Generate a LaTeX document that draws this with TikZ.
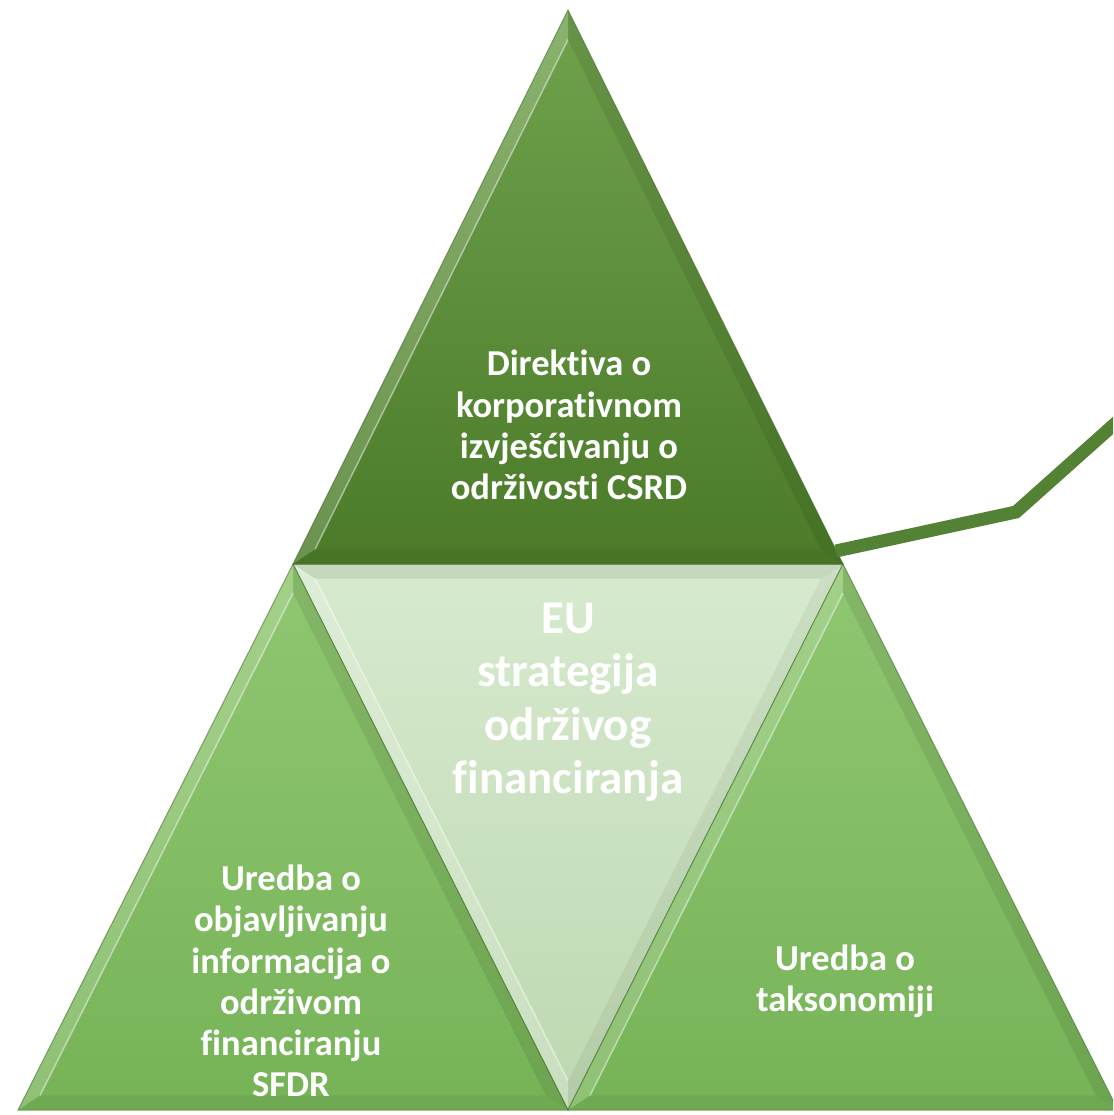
\documentclass[tikz,border=0pt]{standalone}
\usepackage{fontspec}
\setmainfont{Carlito}[Ligatures={NoCommon}]
\usetikzlibrary{calc}
\definecolor{darkA}{HTML}{70A24E}
\definecolor{darkB}{HTML}{4B7B28}
\definecolor{midA}{HTML}{90C771}
\definecolor{midB}{HTML}{76B357}
\definecolor{paleA}{HTML}{D7EACE}
\definecolor{paleB}{HTML}{BDD8B1}
\definecolor{lineG}{HTML}{548235}
\definecolor{rimG}{HTML}{3E6B26}
\tikzset{
  lbl/.style={text=white, font=\bfseries\fontsize{36.5}{41.2}\selectfont, align=center, inner sep=0pt},
  biglbl/.style={text=white, font=\bfseries\fontsize{47}{53.5}\selectfont, align=center, inner sep=0pt},
  lightband/.style={fill=white, fill opacity=0.18},
  darkband/.style={fill=black, fill opacity=0.08},
  baseband/.style={fill=black, fill opacity=0.05},
  hiline/.style={draw=white, draw opacity=0.45, line width=1.5pt},
  rim/.style={draw=rimG, draw opacity=0.55, line width=1pt},
  connector/.style={draw=lineG, line width=13pt, line join=miter},
}
% #1 #2 #3 vertices, #4 prefix, #5 top colour, #6 bottom colour
\newcommand\bevtri[6]{%
  \coordinate (#4g) at ($0.3333*(#1)+0.3333*(#2)+0.3334*(#3)$);
  \coordinate (#4a) at ($(#1)!0.08!(#4g)$);
  \coordinate (#4b) at ($(#2)!0.08!(#4g)$);
  \coordinate (#4c) at ($(#3)!0.08!(#4g)$);
  \shade[top color=#5, bottom color=#6] (#1)--(#2)--(#3)--cycle;
  \fill[lightband] (#1)--(#2)--(#4b)--(#4a)--cycle;
  \fill[darkband] (#1)--(#4a)--(#4c)--(#3)--cycle;
  \fill[baseband] (#2)--(#3)--(#4c)--(#4b)--cycle;
  \draw[hiline] (#4b)--(#4a);
  \draw[rim] (#1)--(#2)--(#3)--cycle;
}
\begin{document}
\begin{tikzpicture}[x=1pt,y=-1pt]
\useasboundingbox (0,0) rectangle (1113,1115);
\clip (0,0) rectangle (1113,1115);
\coordinate (T) at (568,10);
\coordinate (L) at (293,564);
\coordinate (R) at (843,564);
\coordinate (BL) at (18,1110);
\coordinate (BM) at (568,1110);
\coordinate (BR) at (1118,1110);
% centre (inverted) triangle
\bevtri{L}{BM}{R}{ce}{paleA}{paleB}
% bottom triangles
\bevtri{L}{BL}{BM}{bl}{midA}{midB}
\bevtri{R}{BM}{BR}{br}{midA}{midB}
% top triangle
\bevtri{T}{L}{R}{tp}{darkA}{darkB}
% connector line
\coordinate (c0) at (836,551);
\coordinate (c1) at (1016,512);
\coordinate (c2) at (1118,421);
\draw[connector] (c0)--(c1)--(c2);
% labels
\node[lbl] (tTop) at (569,425) {Direktiva o\\korporativnom\\izvješćivanju o\\održivosti CSRD};
\node[biglbl] (tCenter) at (568,702) {EU\\strategija\\održivog\\financiranja};
\node[lbl] (tLeft) at (291,981) {Uredba o\\objavljivanju\\informacija o\\održivom\\financiranju\\SFDR};
\node[lbl] (tRight) at (845,981) {Uredba o\\taksonomiji};
\end{tikzpicture}
\end{document}
